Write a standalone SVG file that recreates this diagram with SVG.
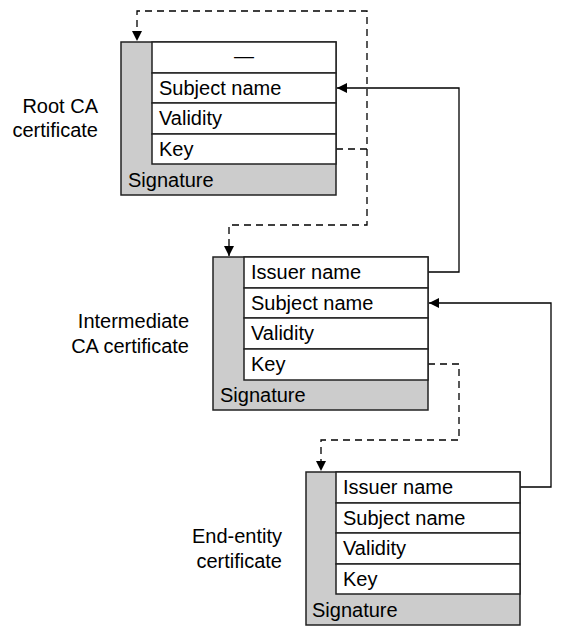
<svg xmlns="http://www.w3.org/2000/svg" width="562" height="637" viewBox="0 0 562 637">
<style>
text{font-family:"Liberation Sans",Arial,sans-serif;font-size:20px;fill:#000}
.lbl{text-anchor:end}
.outer{fill:#cccccc;stroke:#222;stroke-width:1.5}
.row{fill:#fff;stroke:#222;stroke-width:1.5}
.solid{fill:none;stroke:#000;stroke-width:1.3}
.dash{fill:none;stroke:#000;stroke-width:1.3;stroke-dasharray:7,5}
</style>
<defs>
<marker id="ah" viewBox="0 0 10 10" refX="10" refY="5" markerWidth="10" markerHeight="10" markerUnits="userSpaceOnUse" orient="auto">
<path d="M0,0 L10,5 L0,10 Z" fill="#000"/>
</marker>
</defs>
<rect width="562" height="637" fill="#fff"/>
<g id="connectors">
<path class="dash" d="M336,149 H367 V11 H137 V41" marker-end="url(#ah)"/>
<path class="dash" d="M367,149 V225 H229 V256" marker-end="url(#ah)"/>
<path class="solid" d="M428,272 H459 V88 H337" marker-end="url(#ah)"/>
<path class="dash" d="M428,364 H459 V440 H321 V471" marker-end="url(#ah)"/>
<path class="solid" d="M520,487 H551 V303 H429" marker-end="url(#ah)"/>
</g>
<g id="root">
<rect class="outer" x="121" y="42" width="215" height="153"/>
<rect class="row" x="152" y="42" width="184" height="31"/>
<rect class="row" x="152" y="73" width="184" height="30"/>
<rect class="row" x="152" y="103" width="184" height="31"/>
<rect class="row" x="152" y="134" width="184" height="30"/>
<text x="244" y="63" text-anchor="middle">—</text>
<text x="159" y="95">Subject name</text>
<text x="159" y="125">Validity</text>
<text x="159" y="156">Key</text>
<text x="128" y="187">Signature</text>
<text class="lbl" x="98" y="113">Root CA</text>
<text class="lbl" x="98" y="137">certificate</text>
</g>
<g id="intermediate">
<rect class="outer" x="213" y="257" width="215" height="153"/>
<rect class="row" x="244" y="257" width="184" height="31"/>
<rect class="row" x="244" y="288" width="184" height="30"/>
<rect class="row" x="244" y="318" width="184" height="31"/>
<rect class="row" x="244" y="349" width="184" height="31"/>
<text x="251" y="279">Issuer name</text>
<text x="251" y="310">Subject name</text>
<text x="251" y="340">Validity</text>
<text x="251" y="371">Key</text>
<text x="220" y="402">Signature</text>
<text class="lbl" x="189" y="328">Intermediate</text>
<text class="lbl" x="189" y="353">CA certificate</text>
</g>
<g id="endentity">
<rect class="outer" x="306" y="472" width="214" height="153"/>
<rect class="row" x="336" y="472" width="184" height="31"/>
<rect class="row" x="336" y="503" width="184" height="30"/>
<rect class="row" x="336" y="533" width="184" height="31"/>
<rect class="row" x="336" y="564" width="184" height="30"/>
<text x="343" y="494">Issuer name</text>
<text x="343" y="525">Subject name</text>
<text x="343" y="555">Validity</text>
<text x="343" y="586">Key</text>
<text x="312" y="617">Signature</text>
<text class="lbl" x="282" y="543">End-entity</text>
<text class="lbl" x="282" y="568">certificate</text>
</g>
</svg>
